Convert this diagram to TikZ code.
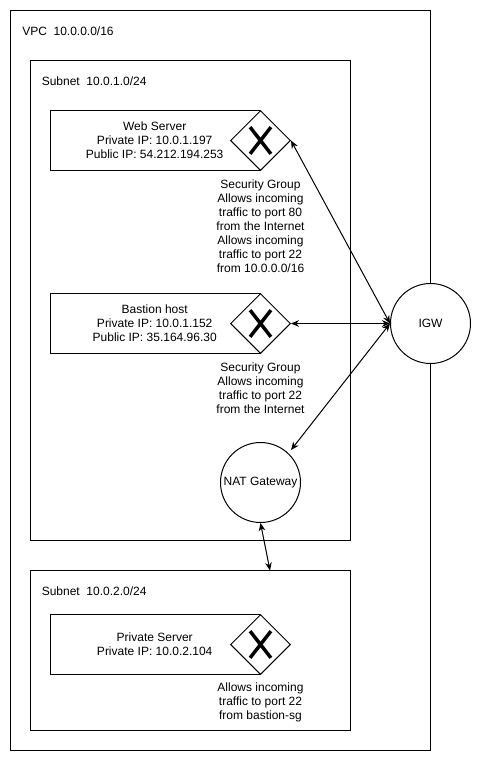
\documentclass[tikz,border=0pt]{standalone}
\usepackage{fontspec}
\setmainfont{Liberation Sans}
\usetikzlibrary{positioning, arrows.meta, shapes, calc}
\tikzset{
  region/.style={draw, line width=0.75pt, minimum width=#1, inner sep=0pt},
  hostbox/.style={draw, line width=0.75pt, minimum width=157.5pt, minimum height=45pt, align=center, inner sep=0pt},
  sgate/.style={draw, diamond, fill=white, line width=0.75pt, minimum width=45pt, minimum height=45pt, inner sep=0pt,
    path picture={\draw[line width=2.6pt] ($(path picture bounding box.center)+(-7.8pt,10pt)$) -- ($(path picture bounding box.center)+(7.8pt,-10pt)$)
      ($(path picture bounding box.center)+(-7.8pt,-10pt)$) -- ($(path picture bounding box.center)+(7.8pt,10pt)$);}},
  gateway/.style={draw, circle, fill=white, line width=0.75pt, minimum size=60pt, inner sep=0pt, align=center},
  note/.style={align=center, inner sep=0pt},
  link/.style={line width=0.75pt, {Stealth[length=6pt,width=5pt]}-{Stealth[length=6pt,width=5pt]}}
}
\begin{document}
\begin{tikzpicture}[x=0.75pt, y=-0.75pt, font=\fontsize{9}{10.5}\selectfont]
      \useasboundingbox (0,0) rectangle (481,761);
      \fill[white] (0,0) rectangle (481,761);
      \draw[line width=0.75pt] (10.5,10.5) rectangle (430.5,750.5);
      \draw[line width=0.75pt] (30.5,60.5) rectangle (350.5,540.5);
      \draw[line width=0.75pt] (30.5,570.5) rectangle (350.5,730.5);
      \node[anchor=west, inner sep=0pt] (vpcLabel) at (22,31) {VPC\ \ 10.0.0.0/16};
      \node[anchor=west, inner sep=0pt] (subnetALabel) at (41.5,81) {Subnet\ \ 10.0.1.0/24};
      \node[anchor=west, inner sep=0pt] (subnetBLabel) at (41.5,591) {Subnet\ \ 10.0.2.0/24};
      \node[hostbox] (web) at (155.5,140.5) {\hspace*{-1.2pt}Web Server\\\hspace*{-1.2pt}Private IP: 10.0.1.197\\\hspace*{-1.2pt}Public IP: 54.212.194.253};
      \node[sgate] (webSg) at (260.5,140.5) {};
      \node[note] (webNote) at (260.5,226) {Security Group\\Allows incoming\\traffic to port 80\\from the Internet\\Allows incoming\\traffic to port 22\\from 10.0.0.0/16};
      \node[hostbox] (bastion) at (155.5,323.5) {\hspace*{-1.2pt}Bastion host\\\hspace*{-1.2pt}Private IP: 10.0.1.152\\\hspace*{-1.2pt}Public IP: 35.164.96.30};
      \node[sgate] (bastionSg) at (260.5,323.5) {};
      \node[note] (bastionNote) at (260.5,388) {Security Group\\Allows incoming\\traffic to port 22\\from the Internet};
      \node[hostbox] (private) at (155.5,644.5) {\hspace*{-1.2pt}Private Server\\\hspace*{-1.2pt}Private IP: 10.0.2.104};
      \node[sgate] (privateSg) at (260.5,644.5) {};
      \node[note] (privateNote) at (260.5,702) {Allows incoming\\traffic to port 22\\from bastion-sg};
      \node[gateway] (nat) at (260.5,482.5) {NAT Gateway};
      \node[gateway] (igw) at (430.5,323.5) {IGW};
      \coordinate (natPort) at (291,450);
      \coordinate (subnetPort) at (270,570.5);
      \draw[link] (webSg.east) -- (igw.west);
      \draw[link] (bastionSg.east) -- (igw.west);
      \draw[link] (natPort) -- (igw.west);
      \draw[link] (nat.south) -- (subnetPort);
\end{tikzpicture}
\end{document}
